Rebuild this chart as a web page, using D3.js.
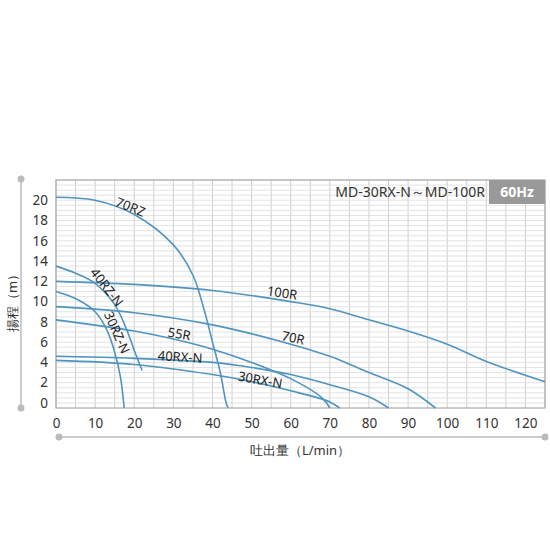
<!DOCTYPE html><html><head><meta charset="utf-8"><script src="https://cdn.jsdelivr.net/npm/d3@7"></script>
<style>body{margin:0;background:#fff}text{font-family:"Noto Sans",sans-serif}</style></head><body>
<svg id="c" width="550" height="550"></svg>
<script>
const xTicks=[0,10,20,30,40,50,60,70,80,90,100,110,120];
const yTicks=[0,2,4,6,8,10,12,14,16,18,20];
const c70RZ=[[0,20.3],[10,20],[20,18.6],[30,15.6],[35,12.6],[38,9],[40,6],[42,3],[43.5,0],[44,-0.5]];
const c40RZN=[[0,13.5],[5,12.8],[10,11.8],[15,9.7],[18,7.3],[20,5.2],[22,3.2]];
const c30RZN=[[0,11],[5,10.3],[10,9],[13,7.2],[15,5],[16.5,2.5],[17.3,0],[17.4,-0.5]];
const c100R=[[0,12],[20,11.7],[40,11.1],[60,10],[70,9.3],[80,8.2],[90,7.1],[100,5.8],[110,4.1],[125,2.1]];
const c70R=[[0,9.5],[20,8.9],[40,7.7],[60,5.8],[70,4.6],[80,3],[90,1.4],[97,-0.5]];
const c55R=[[0,8.2],[20,7.1],[30,6.3],[40,5.3],[50,4],[60,2.4],[68,0.5],[70,-0.5]];
const c40RXN=[[0,4.6],[20,4.4],[40,4],[50,3.5],[60,2.8],[70,1.8],[80,0.6],[85,-0.5]];
const c30RXN=[[0,4.2],[20,3.8],[40,2.8],[50,2.1],[60,1.2],[70,0.1],[72.5,-0.5]];
const curves=[c70RZ,c40RZN,c30RZN,c100R,c70R,c55R,c40RXN,c30RXN];
const labels=[["70RZ",130,208,22],["40RZ-N",106,288,52],["30RZ-N",116,333,66],["100R",282,294,8],["70R",293,339,12],["55R",179,335,10],["40RX-N",180,358,4],["30RX-N",260,381,10]];
const svg=d3.select("#c");
const x=d3.scaleLinear().domain([0,125]).range([56,545]);
const y=d3.scaleLinear().domain([-0.5,22]).range([408,180]);
const g=svg.append("g");
for(let v=0;v<=125;v+=5) g.append("line").attr("x1",x(v)).attr("x2",x(v)).attr("y1",y(-0.5)).attr("y2",y(22)).attr("stroke","#cfcfcf").attr("stroke-width",1);
for(let v=0;v<=22;v+=0.5) g.append("line").attr("x1",x(0)).attr("x2",x(125)).attr("y1",y(v)).attr("y2",y(v)).attr("stroke","#dcdcdc").attr("stroke-width",0.8);
g.append("rect").attr("x",x(0)).attr("y",y(22)).attr("width",x(125)-x(0)).attr("height",y(-0.5)-y(22)).attr("fill","none").attr("stroke","#aaa").attr("stroke-width",1.2);
const xa=svg.append("g").attr("transform",`translate(0,${y(-0.5)})`).call(d3.axisBottom(x).tickValues(xTicks).tickSize(0).tickPadding(10));
const ya=svg.append("g").attr("transform",`translate(${x(0)},0)`).call(d3.axisLeft(y).tickValues(yTicks).tickSize(0).tickPadding(8));
[xa,ya].forEach(a=>{a.select(".domain").remove();a.selectAll("text").attr("font-size",13.5).attr("fill","#333");});
const line=d3.line().x(d=>x(d[0])).y(d=>y(d[1])).curve(d3.curveMonotoneX);
const lineY=d3.line().x(d=>x(d[0])).y(d=>y(d[1])).curve(d3.curveCatmullRom);
curves.forEach(c=>svg.append("path").attr("d",lineY(c)).attr("fill","none").attr("stroke","#4f95bf").attr("stroke-width",1.6));
labels.forEach(l=>svg.append("text").attr("transform",`translate(${l[1]},${l[2]}) rotate(${l[3]})`).attr("text-anchor","middle").attr("dominant-baseline","middle").attr("font-size",13).attr("fill","#222").text(l[0]));
svg.append("rect").attr("x",489).attr("y",180).attr("width",56).attr("height",24).attr("fill","#999");
svg.append("text").attr("x",517).attr("y",197).attr("text-anchor","middle").attr("font-size",14).attr("font-weight","bold").attr("fill","#fff").text("60Hz");
svg.append("text").attr("x",485).attr("y",197).attr("text-anchor","end").attr("font-size",14).attr("fill","#333").text("MD-30RX-N～MD-100R");
// decorative axes
svg.append("line").attr("x1",21).attr("x2",21).attr("y1",179).attr("y2",408).attr("stroke","#bbb").attr("stroke-width",1.5);
[179,408].forEach(v=>svg.append("circle").attr("cx",21).attr("cy",v).attr("r",3.5).attr("fill","#bbb"));
svg.append("line").attr("x1",59).attr("x2",545).attr("y1",437).attr("y2",437).attr("stroke","#bbb").attr("stroke-width",1.5);
[59,545].forEach(v=>svg.append("circle").attr("cx",v).attr("cy",437).attr("r",3.5).attr("fill","#bbb"));
svg.append("text").attr("transform","translate(14,300) rotate(-90)").attr("text-anchor","middle").attr("dominant-baseline","middle").attr("font-size",13).attr("fill","#333").text("揚程（m）");
svg.append("text").attr("x",300).attr("y",455).attr("text-anchor","middle").attr("font-size",13).attr("fill","#333").text("吐出量（L/min）");
</script></body></html>
